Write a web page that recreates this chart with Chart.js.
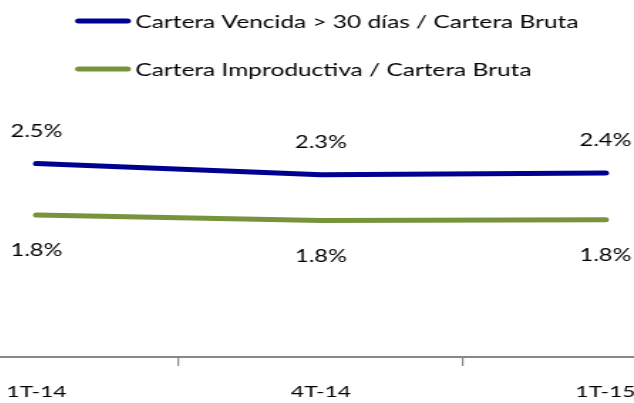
<!DOCTYPE html>
<html>
<head>
<meta charset="utf-8">
<script src="https://cdn.jsdelivr.net/npm/chart.js@4"></script>
<style>
  html, body { margin: 0; padding: 0; background: #ffffff; overflow: hidden; width: 634px; height: 403px; }
  #wrap { width: 600px; height: 403px; transform: translateX(-105.75px) scaleX(1.4225); transform-origin: 0 0; }
  #c { display: block; }
</style>
</head>
<body>
<div id="wrap"><canvas id="c" width="600" height="403"></canvas></div>
<script>
const categories = ['1T-14', '4T-14', '1T-15'];
const seriesNames = ['Cartera Vencida > 30 días / Cartera Bruta', 'Cartera Improductiva / Cartera Bruta'];
const vencida = [2.48, 2.34, 2.36];
const improductiva = [1.83, 1.76, 1.77];
const seriesColors = ['#000090', '#77933C'];

const FONT = 'Lato';

const dataLabelPlugin = {
  id: 'dataLabels',
  afterDatasetsDraw(chart) {
    const ctx = chart.ctx;
    ctx.save();
    ctx.font = '16.5px ' + FONT;
    ctx.fillStyle = '#000000';
    ctx.textAlign = 'center';
    ctx.textBaseline = 'middle';
    chart.data.datasets.forEach((ds, i) => {
      const meta = chart.getDatasetMeta(i);
      meta.data.forEach((pt, j) => {
        const off = i === 0 ? -32 : 36;
        ctx.fillText(ds.data[j].toFixed(1) + '%', pt.x, pt.y + off);
      });
    });
    ctx.restore();
  }
};

const legendPlugin = {
  id: 'stackLegend',
  afterDraw(chart) {
    const ctx = chart.ctx;
    ctx.save();
    const ys = [21, 69];
    chart.data.datasets.forEach((ds, i) => {
      ctx.strokeStyle = ds.borderColor;
      ctx.lineWidth = 5;
      ctx.lineCap = 'round';
      ctx.beginPath();
      ctx.moveTo(129.6, ys[i]);
      ctx.lineTo(163.9, ys[i]);
      ctx.stroke();
      ctx.fillStyle = '#000000';
      ctx.font = '17.2px ' + FONT;
      ctx.textAlign = 'left';
      ctx.textBaseline = 'middle';
      ctx.fillText(ds.label, 169.5, ys[i] + 1);
    });
    ctx.restore();
  }
};

new Chart(document.getElementById('c'), {
  type: 'line',
  data: {
    labels: categories,
    datasets: [
      { label: seriesNames[0], data: vencida, borderColor: seriesColors[0], backgroundColor: seriesColors[0],
        borderWidth: 5, borderCapStyle: 'round', borderJoinStyle: 'round', pointRadius: 0, tension: 0 },
      { label: seriesNames[1], data: improductiva, borderColor: seriesColors[1], backgroundColor: seriesColors[1],
        borderWidth: 5, borderCapStyle: 'round', borderJoinStyle: 'round', pointRadius: 0, tension: 0 }
    ]
  },
  options: {
    responsive: false,
    animation: false,
    devicePixelRatio: 1,
    layout: { padding: { left: 0, right: 0, top: 82.8, bottom: 0 } },
    plugins: { legend: { display: false }, tooltip: { enabled: false } },
    scales: {
      x: {
        type: 'category',
        offset: true,
        grid: { offset: true, drawOnChartArea: false, drawTicks: true, tickLength: 9, color: '#888888', lineWidth: 1.2 },
        border: { display: true, color: '#888888', width: 2 },
        ticks: { color: '#000000', font: { family: FONT, size: 16 }, padding: 16, maxRotation: 0, autoSkip: false },
        afterFit(scale) { scale.height = 46; }
      },
      y: { display: false, min: 0.038, max: 3.5 }
    }
  },
  plugins: [dataLabelPlugin, legendPlugin]
});
</script>
</body>
</html>
